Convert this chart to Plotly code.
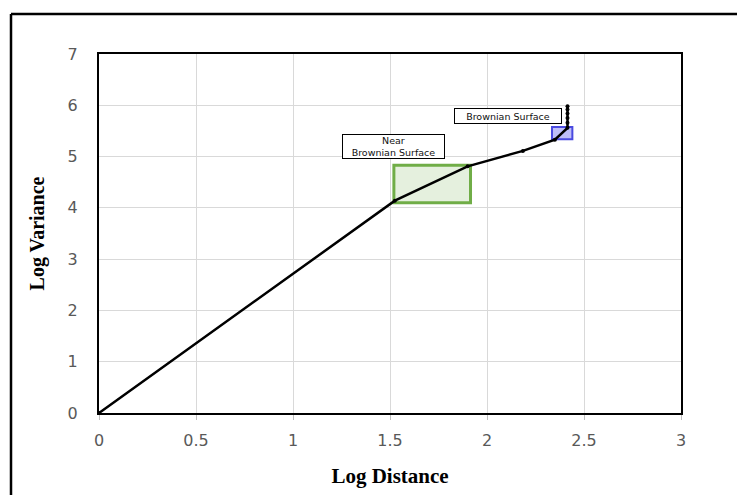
import plotly.graph_objects as go

# Data
log_distance = [0, 1.525, 1.90, 2.185, 2.35, 2.415, 2.415, 2.415, 2.415, 2.415, 2.415]
log_variance = [0, 4.14, 4.81, 5.11, 5.33, 5.56, 5.66, 5.75, 5.84, 5.92, 5.98]

x_ticks = [0, 0.5, 1, 1.5, 2, 2.5, 3]
x_tick_labels = ["0", "0.5", "1", "1.5", "2", "2.5", "3"]
y_ticks = [0, 1, 2, 3, 4, 5, 6, 7]

near_box = {"x0": 1.52, "x1": 1.915, "y0": 4.10, "y1": 4.83}
brown_box = {"x0": 2.335, "x1": 2.44, "y0": 5.34, "y1": 5.575}

near_label = "Near<br>Brownian Surface"
near_label_pos = (1.52, 5.19)
brown_label = "Brownian Surface"
brown_label_pos = (2.108, 5.79)

fig = go.Figure()

fig.add_trace(go.Scatter(
    x=log_distance, y=log_variance, mode="lines+markers",
    line=dict(color="black", width=2.5),
    marker=dict(color="black", size=4),
    showlegend=False, hoverinfo="skip",
))

fig.add_shape(type="rect", xref="x", yref="y",
              x0=near_box["x0"], x1=near_box["x1"], y0=near_box["y0"], y1=near_box["y1"],
              line=dict(color="#70ad47", width=3), fillcolor="rgba(112,173,71,0.18)",
              layer="below")
fig.add_shape(type="rect", xref="x", yref="y",
              x0=brown_box["x0"], x1=brown_box["x1"], y0=brown_box["y0"], y1=brown_box["y1"],
              line=dict(color="#4a4ae0", width=2), fillcolor="rgba(110,110,240,0.45)",
              layer="below")

# outer frame lines
fig.add_shape(type="line", xref="paper", yref="paper", x0=-0.1512, x1=-0.1512, y0=-0.35, y1=1.1114,
              line=dict(color="black", width=2.5))
fig.add_shape(type="line", xref="paper", yref="paper", x0=-0.1512, x1=1.2, y0=1.1114, y1=1.1114,
              line=dict(color="black", width=2.5))

fig.add_annotation(x=near_label_pos[0], y=near_label_pos[1], text=near_label, showarrow=False,
                   font=dict(family="DejaVu Sans", size=9.5, color="#111"),
                   bordercolor="black", borderwidth=1, bgcolor="white", borderpad=0, width=101)
fig.add_annotation(x=brown_label_pos[0], y=brown_label_pos[1], text=brown_label, showarrow=False,
                   font=dict(family="DejaVu Sans", size=9.5, color="#111"),
                   bordercolor="black", borderwidth=1, bgcolor="white", borderpad=1.5, width=103)

# page body has an 8px margin, so offset the figure margins by it
fig.update_layout(
    width=745, height=495,
    margin=dict(l=91, r=72, t=46, b=90),
    paper_bgcolor="white", plot_bgcolor="white",
    font=dict(family="DejaVu Sans"),
)
fig.update_xaxes(
    range=[0, 3], tickvals=x_ticks, ticktext=x_tick_labels, automargin=False,
    showgrid=True, gridcolor="#d9d9d9", gridwidth=1,
    showline=True, linecolor="black", linewidth=2, mirror=True,
    ticks="outside", ticklen=5, tickcolor="#bfbfbf", ticklabelstandoff=7,
    tickfont=dict(family="DejaVu Sans", size=16, color="#595959"),
    zeroline=False,
    title=dict(text="<b>Log Distance</b>", font=dict(family="Liberation Serif", size=21, color="black"), standoff=19),
)
fig.update_yaxes(
    range=[0, 7], tickvals=y_ticks, automargin=False,
    showgrid=True, gridcolor="#d9d9d9", gridwidth=1,
    showline=True, linecolor="black", linewidth=2, mirror=True,
    ticks="", ticklabelstandoff=16,
    tickfont=dict(family="DejaVu Sans", size=16, color="#595959"),
    zeroline=False,
    title=dict(text="<b>Log Variance</b>", font=dict(family="Liberation Serif", size=20, color="black"), standoff=18),
)

fig.write_html("out.html")
